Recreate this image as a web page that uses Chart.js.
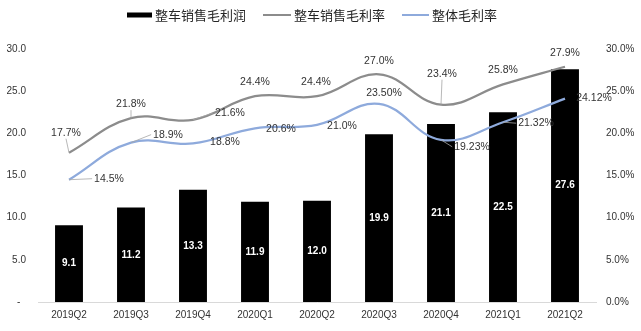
<!DOCTYPE html>
<html>
<head>
<meta charset="utf-8">
<script src="https://cdn.jsdelivr.net/npm/chart.js@4.4.1/dist/chart.umd.min.js"></script>
<style>
  html, body { margin: 0; padding: 0; background: #fff; }
</style>
</head>
<body>
<canvas id="chart" width="641" height="331"></canvas>
<script>
const quarters = ["2019Q2", "2019Q3", "2019Q4", "2020Q1", "2020Q2", "2020Q3", "2020Q4", "2021Q1", "2021Q2"];
const grossProfit = [9.1, 11.2, 13.3, 11.9, 12.0, 19.9, 21.1, 22.5, 27.6];       // 整车销售毛利润
const vehicleMargin = [17.7, 21.8, 21.6, 24.4, 24.4, 27.0, 23.4, 25.8, 27.9];    // 整车销售毛利率 %
const totalMargin = [14.5, 18.9, 18.8, 20.6, 21.0, 23.50, 19.23, 21.32, 24.12];  // 整体毛利率 %
const totalMarginDigits = [1, 1, 1, 1, 1, 2, 2, 2, 2];
const leftTicks = [0, 5, 10, 15, 20, 25, 30];
const rightTicks = [0, 5, 10, 15, 20, 25, 30];

// label placement: [dx, dy, leader line?] relative to the point
const grayLabelPos = [[-3, -20, 1], [0, -14, 1], [37, -7, 1], [0, -14, 0], [-1, -14, 0], [0, -13, 0], [1, -31, 1], [0, -14, 0], [0, -14, 0]];
const blueLabelPos = [[40, -1, 1], [37, -8, 1], [32, -1, 0], [26, 1, 0], [25, 1, 0], [5, -11, 0], [31, 7, 1], [33, 1, 1], [29, 0, 0]];

const numFont = '"Liberation Sans", Arial, sans-serif';
const legendFont = '13px "Noto Sans CJK SC"';
// legend swatch sizes per dataset: [width, height]
const swatchSize = [[25, 5], [28, 2], [27, 2]];

function drawLineLabels(chart, idx, texts, pos) {
    const ctx = chart.ctx;
    const meta = chart.getDatasetMeta(idx);
    ctx.font = "10.5px " + numFont;
    ctx.textAlign = "center";
    ctx.textBaseline = "middle";
    meta.data.forEach((pt, i) => {
        const [dx, dy, leader] = pos[i];
        const cx = pt.x + dx, cy = pt.y + dy;
        const w = ctx.measureText(texts[i]).width;
        if (leader) {
            ctx.strokeStyle = "#a6a6a6";
            ctx.lineWidth = 0.8;
            ctx.beginPath();
            ctx.moveTo(pt.x, pt.y);
            if (Math.abs(dx) > 12) ctx.lineTo(cx - w / 2 - 2, cy);
            else ctx.lineTo(cx, cy + 6);
            ctx.stroke();
        }
        ctx.fillStyle = "#333";
        ctx.fillText(texts[i], cx, cy);
    });
}

function drawLegend(chart) {
    const ctx = chart.ctx;
    const ds = chart.data.datasets;
    ctx.font = legendFont;
    ctx.textBaseline = "middle";
    ctx.textAlign = "left";
    const gapBox = 3, gapItem = 17, cy = 15;
    let total = 0;
    ds.forEach((d, i) => {
        total += swatchSize[i][0] + gapBox + ctx.measureText(d.label).width;
        if (i < ds.length - 1) total += gapItem;
    });
    let x = 312 - total / 2;
    ds.forEach((d, i) => {
        const [w, h] = swatchSize[i];
        ctx.fillStyle = d.type === "bar" ? d.backgroundColor : d.borderColor;
        ctx.fillRect(x, cy - h / 2, w, h);
        x += w + gapBox;
        ctx.fillStyle = "#262626";
        ctx.fillText(d.label, x, cy);
        x += ctx.measureText(d.label).width + gapItem;
    });
}

const labelPlugin = {
    id: "valueLabels",
    afterDraw(chart) {
        const ctx = chart.ctx;
        ctx.save();
        ctx.font = "bold 10px " + numFont;
        ctx.fillStyle = "#fff";
        ctx.textAlign = "center";
        ctx.textBaseline = "middle";
        chart.getDatasetMeta(0).data.forEach((bar, i) => {
            ctx.fillText(grossProfit[i].toFixed(1), bar.x, (bar.y + bar.base) / 2);
        });
        drawLineLabels(chart, 1, vehicleMargin.map(v => v.toFixed(1) + "%"), grayLabelPos);
        drawLineLabels(chart, 2, totalMargin.map((v, i) => v.toFixed(totalMarginDigits[i]) + "%"), blueLabelPos);
        drawLegend(chart);
        ctx.restore();
    }
};

new Chart(document.getElementById("chart").getContext("2d"), {
    type: "bar",
    data: {
        labels: quarters,
        datasets: [
            {
                type: "bar",
                label: "整车销售毛利润",
                data: grossProfit,
                backgroundColor: "#000",
                barPercentage: 0.9,
                categoryPercentage: 0.5,
                yAxisID: "y",
                order: 3
            },
            {
                type: "line",
                label: "整车销售毛利率",
                data: vehicleMargin,
                borderColor: "#8c8c8c",
                backgroundColor: "#8c8c8c",
                borderWidth: 2.25,
                pointRadius: 0,
                tension: 0.4,
                yAxisID: "y1",
                order: 2
            },
            {
                type: "line",
                label: "整体毛利率",
                data: totalMargin,
                borderColor: "#8eaadc",
                backgroundColor: "#8eaadc",
                borderWidth: 2.25,
                pointRadius: 0,
                tension: 0.4,
                yAxisID: "y1",
                order: 1
            }
        ]
    },
    options: {
        responsive: false,
        animation: false,
        layout: { padding: { top: 49, bottom: 0, left: 0, right: 0 } },
        plugins: {
            tooltip: { enabled: false },
            legend: { display: false }
        },
        scales: {
            x: {
                grid: { display: false, drawTicks: false },
                border: { display: true, color: "#d9d9d9", width: 1 },
                ticks: { color: "#333", font: { family: numFont, size: 10 }, padding: 7, maxRotation: 0 },
                afterFit(scale) { scale.height = 29; }
            },
            y: {
                position: "left",
                min: 0, max: 30,
                afterBuildTicks(scale) { scale.ticks = leftTicks.map(v => ({ value: v })); },
                grid: { display: false, drawTicks: false },
                border: { display: false },
                ticks: {
                    color: "#333", font: { family: numFont, size: 10 }, padding: 12,
                    callback: v => v === 0 ? "-  " : v.toFixed(1)
                },
                afterFit(scale) { scale.width = 38; }
            },
            y1: {
                position: "right",
                min: 0, max: 30,
                afterBuildTicks(scale) { scale.ticks = rightTicks.map(v => ({ value: v })); },
                grid: { display: false, drawTicks: false },
                border: { display: false },
                ticks: {
                    color: "#333", font: { family: numFont, size: 10 }, padding: 10,
                    callback: v => v.toFixed(1) + "%"
                },
                afterFit(scale) { scale.width = 45; }
            }
        }
    },
    plugins: [labelPlugin]
});
</script>
</body>
</html>
